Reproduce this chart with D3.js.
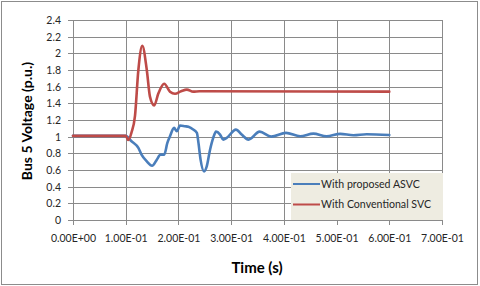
<!DOCTYPE html>
<html><head><meta charset="utf-8">
<script src="https://cdn.jsdelivr.net/npm/d3@7/dist/d3.min.js"></script>
<style>body{margin:0;background:#fff}svg{display:block}</style>
</head><body><svg id="c" width="480" height="286"></svg>
<script>
const xTicks = [0,0.1,0.2,0.3,0.4,0.5,0.6,0.7];
const xTickLabels = ["0.00E+00","1.00E-01","2.00E-01","3.00E-01","4.00E-01","5.00E-01","6.00E-01","7.00E-01"];
const yTicks = [0,0.2,0.4,0.6,0.8,1,1.2,1.4,1.6,1.8,2,2.2,2.4];
const yTickLabels = ["0","0.2","0.4","0.6","0.8","1","1.2","1.4","1.6","1.8","2","2.2","2.4"];
const seriesNames = ["With proposed ASVC","With Conventional SVC"];
const asvcT = [0,0.1,0.111,0.124,0.130,0.140,0.150,0.159,0.166,0.173,0.179,0.184,0.1917,0.197,0.203,0.2125,0.219,0.228,0.235,0.238,0.242,0.2486,0.2537,0.260,0.266,0.2713,0.279,0.285,0.2916,0.309,0.320,0.333,0.354,0.376,0.404,0.431,0.456,0.481,0.507,0.532,0.557,0.6];
const asvcV = [1.01,1.01,0.945,0.865,0.784,0.703,0.651,0.724,0.784,0.784,0.925,1.005,1.106,1.065,1.134,1.125,1.118,1.086,1.045,0.925,0.724,0.583,0.643,0.844,0.986,1.06,1.025,0.965,0.986,1.085,1.025,0.965,1.06,1.0,1.046,1.005,1.037,1.005,1.034,1.017,1.029,1.02];
const svcT = [0,0.1,0.105,0.111,0.1176,0.124,0.1315,0.140,0.146,0.154,0.162,0.173,0.184,0.1935,0.205,0.216,0.228,0.24,0.6];
const svcV = [1.01,1.01,0.96,1.05,1.25,1.80,2.09,1.80,1.48,1.375,1.52,1.635,1.54,1.515,1.545,1.565,1.54,1.545,1.54];
const colors = ["#4a7ebb","#be4b48"];

const svg = d3.select("#c");
const L=73, R=442, T=20, B=220;
const x = d3.scaleLinear().domain([0,0.7]).range([L,R]);
const y = d3.scaleLinear().domain([0,2.4]).range([B,T]);
const font = "Lato, 'Open Sans', sans-serif";

svg.append("rect").attr("x",1.5).attr("y",1.5).attr("width",476).attr("height",283)
  .attr("fill","#fff").attr("stroke","#8c8c8c");

const grid = svg.append("g").attr("stroke","#8a8a8a").attr("stroke-width",1);
yTicks.forEach(v=>grid.append("line").attr("x1",L-5).attr("x2",R).attr("y1",Math.round(y(v))+0.5).attr("y2",Math.round(y(v))+0.5));
xTicks.forEach(v=>grid.append("line").attr("x1",Math.round(x(v))+0.5).attr("x2",Math.round(x(v))+0.5).attr("y1",T).attr("y2",B+5));

const yAxis = d3.axisLeft(y).tickValues(yTicks).tickFormat((d,i)=>yTickLabels[i]).tickSize(0).tickPadding(12);
const gy = svg.append("g").attr("transform",`translate(${L},0)`).call(yAxis);
gy.select(".domain").remove();
gy.selectAll("text").attr("font-family",font).attr("font-size",10.5).attr("fill","#262626");

const xAxis = d3.axisBottom(x).tickValues(xTicks).tickFormat((d,i)=>xTickLabels[i]).tickSize(0).tickPadding(15);
const gx = svg.append("g").attr("transform",`translate(0,${B})`).call(xAxis);
gx.select(".domain").remove();
gx.selectAll("text").attr("font-family",font).attr("font-size",10.5).attr("fill","#262626");

const line = d3.line().x(d=>x(d[0])).y(d=>y(d[1])).curve(d3.curveMonotoneX);
const sets = [d3.zip(asvcT,asvcV), d3.zip(svcT,svcV)];
sets.forEach((s,i)=>svg.append("path").attr("d",line(s)).attr("fill","none")
  .attr("stroke",colors[i]).attr("stroke-width",2.6).attr("stroke-linejoin","round").attr("stroke-linecap","round"));

const lg = svg.append("g");
lg.append("rect").attr("x",291).attr("y",173).attr("width",152).attr("height",47).attr("fill","#eeece1");
seriesNames.forEach((n,i)=>{
  const yy = 184 + i*20.5;
  lg.append("line").attr("x1",293).attr("x2",320).attr("y1",yy).attr("y2",yy).attr("stroke",colors[i]).attr("stroke-width",2);
  lg.append("text").attr("x",321).attr("y",yy).attr("dy","0.35em").attr("font-family",font).attr("font-size",10.6).attr("fill","#262626").text(n);
});

svg.append("text").attr("x",257).attr("y",273).attr("text-anchor","middle").attr("font-family",font)
  .attr("font-size",15).attr("font-weight","bold").attr("fill","#000").text("Time (s)");
svg.append("text").attr("transform","translate(32,121) rotate(-90)").attr("text-anchor","middle").attr("font-family",font)
  .attr("font-size",14).attr("font-weight","bold").attr("fill","#000").text("Bus 5 Voltage (p.u.)");
</script></body></html>
